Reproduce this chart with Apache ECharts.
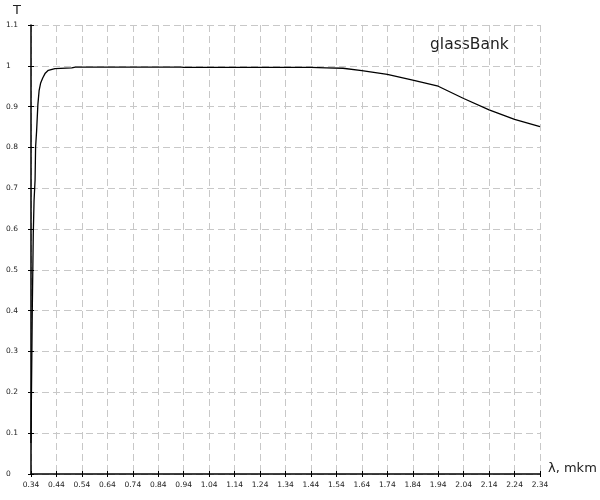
<!DOCTYPE html>
<html><head><meta charset="utf-8">
<script src="https://cdn.jsdelivr.net/npm/echarts@6/dist/echarts.min.js"></script>
<style>html,body{margin:0;padding:0;background:#fff}#c{width:600px;height:500px}</style>
</head><body><div id="c"></div>
<script>
// wavelength, mkm
const lambdaValues = [0.340, 0.341, 0.342, 0.345, 0.349, 0.352, 0.356, 0.358, 0.362, 0.367, 0.372, 0.378, 0.386, 0.396, 0.408, 0.434, 0.500, 0.514, 0.600, 0.700, 0.800, 0.930, 0.940, 1.040, 1.140, 1.240, 1.340, 1.440, 1.500, 1.566, 1.640, 1.740, 1.840, 1.940, 2.040, 2.140, 2.240, 2.340];
// transmission T
const transmission = [0.076, 0.150, 0.210, 0.400, 0.590, 0.670, 0.720, 0.800, 0.840, 0.905, 0.940, 0.958, 0.970, 0.982, 0.989, 0.993, 0.995, 0.997, 0.997, 0.997, 0.997, 0.997, 0.996, 0.996, 0.996, 0.996, 0.996, 0.996, 0.995, 0.994, 0.988, 0.979, 0.965, 0.950, 0.920, 0.892, 0.869, 0.851];
const xTickStart = 0.34;
const xTickEnd = 2.34;
const xTickStep = 0.1;
const yMin = 0;
const yMax = 1.1;
const yTickStep = 0.1;
const seriesName = 'glassBank';
const xAxisName = 'λ, mkm';
const yAxisName = 'T';

const FONT = 'DejaVu Sans';
const chart = echarts.init(document.getElementById('c'), null, {renderer: 'canvas'});
const data = lambdaValues.map((l, i) => [l - xTickStart, transmission[i]]);
const xSpan = +(xTickEnd - xTickStart).toFixed(6);
const gridLine = {show: true, lineStyle: {color: '#c8c8c8', width: 1, type: [7, 4]}};

chart.setOption({
  animation: false,
  backgroundColor: '#fff',
  grid: {left: 31, right: 60, top: 25, bottom: 26, containLabel: false},
  xAxis: [{
    type: 'value', min: 0, max: xSpan, interval: xTickStep, position: 'bottom',
    axisLine: {show: true, onZero: false, lineStyle: {color: '#000', width: 1.5}},
    axisTick: {show: true, length: 3, lineStyle: {color: '#000', width: 1}},
    axisLabel: {show: true, showMinLabel: true, showMaxLabel: true, margin: 7, fontSize: 7.5, color: '#222', fontFamily: FONT,
      formatter: v => (v + xTickStart).toFixed(2)},
    splitLine: gridLine
  }, {
    type: 'value', min: 0, max: xSpan, interval: xTickStep, position: 'bottom',
    axisLine: {show: false},
    axisTick: {show: true, inside: true, length: 3, lineStyle: {color: '#000', width: 1}},
    axisLabel: {show: false}, splitLine: {show: false}
  }],
  yAxis: [{
    type: 'value', min: yMin, max: yMax, interval: yTickStep, position: 'left',
    axisLine: {show: true, onZero: false, lineStyle: {color: '#000', width: 1.5}},
    axisTick: {show: true, length: 3, lineStyle: {color: '#000', width: 1}},
    axisLabel: {show: true, showMinLabel: true, showMaxLabel: true, margin: 25, align: 'left', fontSize: 7.5, color: '#222', fontFamily: FONT},
    splitLine: gridLine
  }, {
    type: 'value', min: yMin, max: yMax, interval: yTickStep, position: 'left',
    axisLine: {show: false},
    axisTick: {show: true, inside: true, length: 3, lineStyle: {color: '#000', width: 1}},
    axisLabel: {show: false}, splitLine: {show: false}
  }],
  series: [{
    name: seriesName, type: 'line', xAxisIndex: 0, yAxisIndex: 0,
    data: data, showSymbol: false, symbol: 'none', smooth: false,
    lineStyle: {color: '#000', width: 1.3}, z: 5
  }],
  graphic: [
    {type: 'text', left: 13, top: 4, style: {text: yAxisName, font: '13px "DejaVu Sans"', fill: '#222'}},
    {type: 'text', x: 548, y: 469, style: {text: xAxisName, font: '13px "DejaVu Sans"', fill: '#222', verticalAlign: 'middle'}},
    {type: 'text', x: 430, y: 45, style: {text: seriesName, font: '15.5px "DejaVu Sans"', fill: '#222', verticalAlign: 'middle'}}
  ]
});
</script></body></html>
